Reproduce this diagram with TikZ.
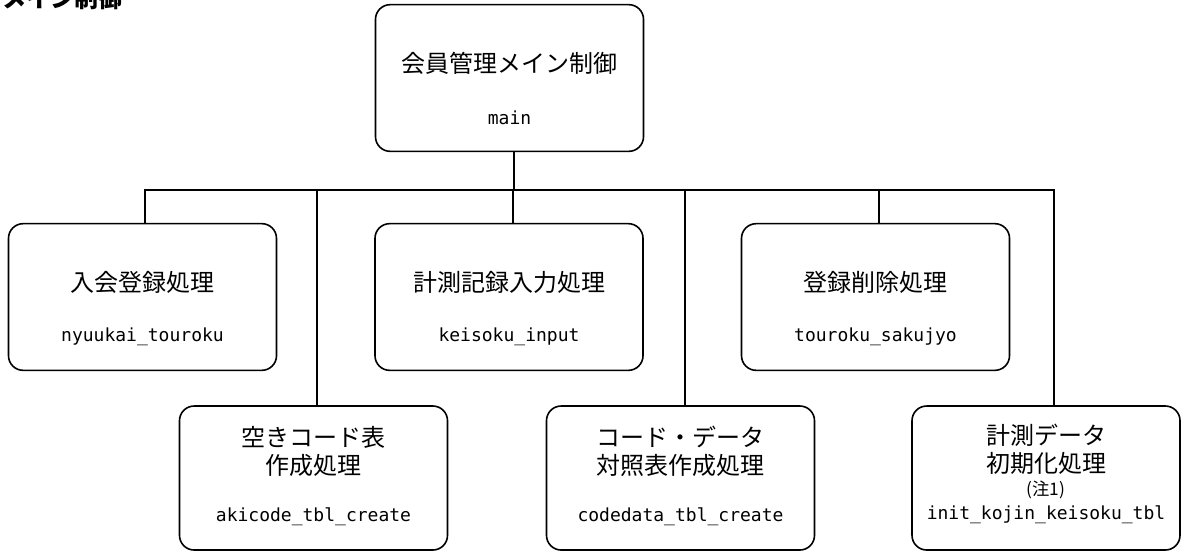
\documentclass[tikz,border=0pt]{standalone}
\usepackage{fontspec}
\newfontfamily\jpfont{Noto Sans CJK JP}
\newfontfamily\codefont{DejaVu Sans Mono}
\usetikzlibrary{calc}

\tikzset{
	proc/.style={draw, line width=1.2pt, rounded corners=11pt, inner sep=0pt,
		minimum width=201pt, minimum height=110pt},
	lowproc/.style={proc, minimum height=108pt},
	jptext/.style={font=\jpfont\fontsize{18}{21}\selectfont, align=center, inner sep=0pt},
	codetext/.style={font=\codefont\fontsize{13.5}{16}\selectfont, inner sep=0pt},
	link/.style={line width=1.2pt}
}

\begin{document}
\begin{tikzpicture}[x=0.75pt, y=-0.75pt]
	\useasboundingbox (0,0) rectangle (1187,551);

	% title, cut by the top edge
	\node[anchor=base west, inner sep=0pt, font=\jpfont\bfseries\fontsize{18}{20}\selectfont] (title) at (2,7) {メイン制御};

	% main
	\node[proc] (main) at (509.5,78) {};
	\node[jptext] (main-jp) at (509.5,63) {会員管理メイン制御};
	\node[codetext] (main-code) at (509.5,118) {main};

	% upper row
	\foreach \nm/\x/\jp/\code in {nyuukai/142.5/入会登録処理/nyuukai\_touroku,
		keisoku/509/計測記録入力処理/keisoku\_input,
		touroku/875.5/登録削除処理/touroku\_sakujyo}{
		\node[proc] (\nm) at (\x,297) {};
		\node[jptext] (\nm-jp) at (\x,282) {\jp};
		\node[codetext] (\nm-code) at (\x,337) {\code};
	}

	% lower row
	\foreach \nm/\x/\jp/\code in {akicode/313.5/空きコード表\\作成処理/akicode\_tbl\_create,
		codedata/680.5/コード・データ\\対照表作成処理/codedata\_tbl\_create}{
		\node[lowproc] (\nm) at (\x,478) {};
		\node[jptext] (\nm-jp) at (\x,451) {\jp};
		\node[codetext] (\nm-code) at (\x,517) {\code};
	}
	\node[lowproc] (init) at (1046,478) {};
	\node[jptext] (init-jp) at (1046,449.5) {計測データ\\初期化処理};
	\node[font=\jpfont\fontsize{13}{15}\selectfont, inner sep=0pt] (init-note) at (1046,490) {(注1)};
	\node[codetext] (init-code) at (1046,515) {init\_kojin\_keisoku\_tbl};

	% connectors
	\coordinate (bus) at (0,190);
	\draw[link] ([xshift=3.4pt]main.south) -- ([xshift=3.4pt]main.south |- bus);
	\draw[link] ([xshift=2pt]nyuukai.north) |- ([xshift=6pt]init.north |- bus) -- ([xshift=6pt]init.north);
	\foreach \nm/\dx in {akicode/2.6, keisoku/3, codedata/3.5, touroku/2.6}
		\draw[link] ([xshift=\dx pt]\nm.north) -- ([xshift=\dx pt]\nm.north |- bus);

\end{tikzpicture}
\end{document}
